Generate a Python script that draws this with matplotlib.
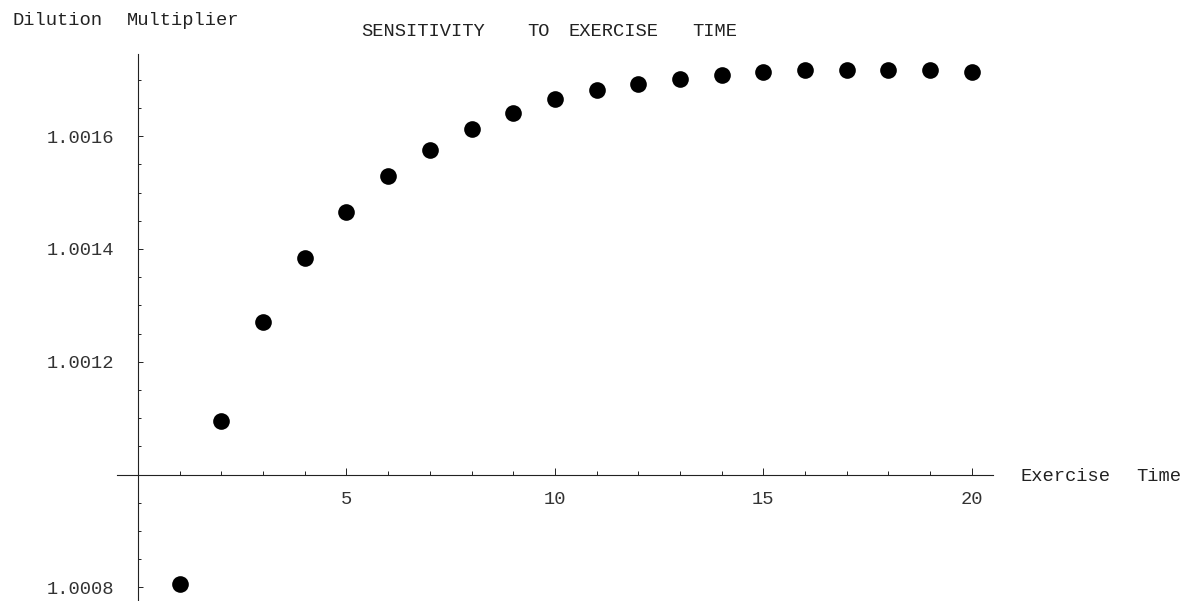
import matplotlib
matplotlib.use("Agg")
import matplotlib.pyplot as plt
import numpy as np
from matplotlib.ticker import FixedLocator

# Data
exercise_time = list(range(1, 21))
dilution = [1.000805, 1.001095, 1.001270, 1.001384, 1.001465, 1.001530,
            1.001575, 1.001612, 1.001641, 1.001665, 1.001681, 1.001693,
            1.001701, 1.001709, 1.001713, 1.001718, 1.001718, 1.001718,
            1.001718, 1.001713]
x_major = [5, 10, 15, 20]
y_major = [1.0008, 1.0012, 1.0014, 1.0016]
y_labels = ["1.0008", "1.0012", "1.0014", "1.0016"]
title_words = ["SENSITIVITY", "TO", "EXERCISE", "TIME"]
xlabel_words = ["Exercise", "Time"]
ylabel_words = ["Dilution", "Multiplier"]

W, H = 1193, 601
fig = plt.figure(figsize=(W / 100, H / 100), dpi=100)
ax = fig.add_axes([116.7 / W, 0.0, (992.7 - 116.7) / W, 1 - 54 / H])

FONT = "Liberation Mono"
TXT = '#222222'

ax.plot(exercise_time, dilution, 'o', color='black', markersize=12,
        markeredgewidth=0, clip_on=False, zorder=5)

ax.set_xlim(-0.51, 20.5)
ax.set_ylim(1.0007757, 1.0017456)

for s in ['top', 'right']:
    ax.spines[s].set_visible(False)
ax.spines['left'].set_position(('data', 0))
ax.spines['bottom'].set_position(('data', 1.0010))
for s in ['left', 'bottom']:
    ax.spines[s].set_linewidth(0.8)
    ax.spines[s].set_color('#222222')

ax.xaxis.set_major_locator(FixedLocator(x_major))
ax.xaxis.set_minor_locator(FixedLocator([i for i in range(1, 21) if i not in x_major]))
ax.set_xticklabels([str(v) for v in x_major])

ax.yaxis.set_major_locator(FixedLocator(y_major))
minor_y = [round(1.00080 + 0.00005 * k, 5) for k in range(0, 20)]
minor_y = [v for v in minor_y if v not in y_major and abs(v - 1.0010) > 1e-9 and v < 1.00175]
ax.yaxis.set_minor_locator(FixedLocator(minor_y))
ax.set_yticklabels(y_labels)

ax.tick_params(axis='x', which='major', direction='in', length=4.8, width=0.7,
               pad=12, labelsize=13.5, color='#222222')
ax.tick_params(axis='x', which='minor', direction='in', length=2.9, width=0.7,
               color='#222222')
ax.tick_params(axis='y', which='major', direction='in', length=3.8, width=0.7,
               pad=17, labelsize=13.5, color='#222222')
ax.tick_params(axis='y', which='minor', direction='in', length=2.0, width=0.7,
               color='#222222')
for lab in ax.get_xticklabels() + ax.get_yticklabels():
    lab.set_fontfamily(FONT)
    lab.set_color('#333333')

def words(items, xs, base_px):
    for w, xp in zip(items, xs):
        fig.text(xp / W, 1 - base_px / H, w, family=FONT, fontsize=13.5,
                 va='baseline', ha='left', color=TXT)

words(ylabel_words, [12.7, 126.7], 25)
words(title_words, [361.7, 527.7, 568.3, 692.7], 36)
words(xlabel_words, [1020.7, 1136.7], 480.7)

fig.savefig("out.png", dpi=100)
